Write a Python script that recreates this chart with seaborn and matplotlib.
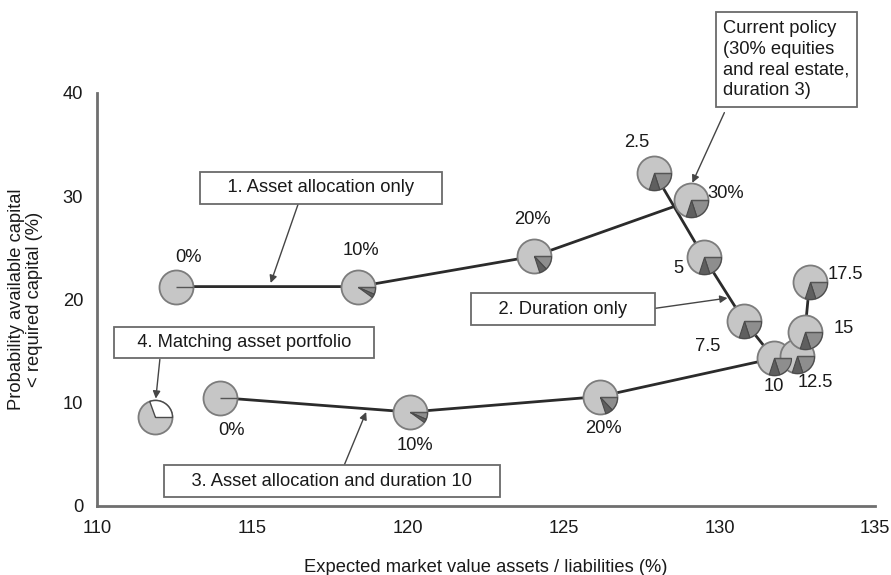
import numpy as np
import pandas as pd
import matplotlib
matplotlib.use("Agg")
import matplotlib.pyplot as plt
from matplotlib.path import Path
import seaborn as sns

# ---- data -------------------------------------------------------------
# 1. asset allocation only (duration 3)
alloc_labels = ["0%", "10%", "20%", "30%"]
alloc_x = [112.55, 118.4, 124.05, 129.1]
alloc_y = [21.25, 21.25, 24.2, 29.6]
alloc_equity = [0.0, 6.5, 13.0, 20.0]       # % equities
alloc_realestate = [0.0, 3.5, 7.0, 10.0]    # % real estate

# 2. duration only (30% equities and real estate)
dur_labels = ["2.5", "5", "7.5", "10", "12.5", "15", "17.5"]
dur_x = [127.9, 129.5, 130.8, 131.75, 132.5, 132.75, 132.9]
dur_y = [32.3, 24.1, 17.9, 14.3, 14.5, 16.9, 21.7]
dur_equity = [20.0] * 7
dur_realestate = [10.0] * 7

# 3. asset allocation with duration 10 (30% point is the duration-10 point)
d10_labels = ["0%", "10%", "20%"]
d10_x = [113.95, 120.05, 126.15]
d10_y = [10.5, 9.1, 10.6]
d10_equity = [0.0, 6.5, 13.0]
d10_realestate = [0.0, 3.5, 7.0]

# 4. matching asset portfolio
match_x = [111.85]
match_y = [8.6]
match_share = [30.5]   # % shown as open slice

x_ticks = [110, 115, 120, 125, 130, 135]
y_ticks = [0, 10, 20, 30, 40]

# ---- style ------------------------------------------------------------
sns.set_theme(style="white")
plt.rcParams["font.family"] = ["Liberation Sans", "DejaVu Sans"]

FS = 13.2
AXIS_C = "#6f6f6f"
LINE_C = "#2b2b2b"
PIE_FILL = "#c6c6c6"
PIE_EDGE = "#7c7c7c"
EQ_C = "#8e8e8e"
RE_C = "#5f5f5f"
WEDGE_EDGE = "#4a4a4a"
PIE_S = 600.0   # marker area (pt^2) of a full pie

fig = plt.figure(figsize=(8.91, 5.75), dpi=100)
ax = fig.add_axes([97 / 891, 1 - 506 / 575, 778 / 891, 413 / 575])

# ---- connecting lines ---------------------------------------------------
line1 = pd.DataFrame({"x": alloc_x, "y": alloc_y})
line2 = pd.DataFrame({"x": dur_x, "y": dur_y})
line3 = pd.DataFrame({"x": d10_x + [dur_x[3]], "y": d10_y + [dur_y[3]]})
for df in (line1, line2, line3):
    sns.lineplot(data=df, x="x", y="y", sort=False, estimator=None,
                 color=LINE_C, lw=2.0, ax=ax, zorder=2)


# ---- pie markers --------------------------------------------------------
def wedge_marker(a0, a1, n=48):
    """Closed wedge path between angles a0..a1 (degrees, counter-clockwise)."""
    t = np.radians(np.linspace(a0, a1, n))
    verts = np.vstack([[0, 0], np.column_stack([np.cos(t), np.sin(t)]), [0, 0]])
    return verts


def scaled_size(verts):
    # matplotlib rescales custom markers by their largest coordinate
    return PIE_S * np.max(np.abs(verts)) ** 2


def draw_pies(xs, ys, equity, realestate):
    sns.scatterplot(x=xs, y=ys, s=PIE_S, marker="o", color=PIE_FILL,
                    edgecolor=PIE_EDGE, linewidth=1.3, ax=ax, zorder=3,
                    legend=False)
    for xi, yi, eq, re in zip(xs, ys, equity, realestate):
        a_eq = -eq / 100 * 360
        a_re = -(eq + re) / 100 * 360
        if eq > 0:
            v = wedge_marker(a_eq, 0)
            ax.scatter([xi], [yi], marker=v, s=scaled_size(v), c=EQ_C,
                       edgecolors=WEDGE_EDGE, linewidths=0.8, zorder=4)
        if re > 0:
            v = wedge_marker(a_re, a_eq)
            ax.scatter([xi], [yi], marker=v, s=scaled_size(v), c=RE_C,
                       edgecolors=WEDGE_EDGE, linewidths=0.8, zorder=4)
    radial = Path([(0, 0), (1, 0)], [Path.MOVETO, Path.LINETO])
    ax.scatter(xs, ys, marker=radial, s=PIE_S, facecolors="none",
               edgecolors="#555555", linewidths=1.0, zorder=5)


draw_pies(alloc_x, alloc_y, alloc_equity, alloc_realestate)
draw_pies(dur_x, dur_y, dur_equity, dur_realestate)
draw_pies(d10_x, d10_y, d10_equity, d10_realestate)

# matching portfolio: grey pie with an open (white) slice
sns.scatterplot(x=match_x, y=match_y, s=PIE_S, marker="o", color=PIE_FILL,
                edgecolor=PIE_EDGE, linewidth=1.3, ax=ax, zorder=3, legend=False)
for xi, yi, sh in zip(match_x, match_y, match_share):
    v = wedge_marker(0, sh / 100 * 360)
    ax.scatter([xi], [yi], marker=v, s=scaled_size(v), c="white",
               edgecolors=WEDGE_EDGE, linewidths=1.0, zorder=4)

# ---- point labels -------------------------------------------------------
def label_points(xs, ys, labels, offsets):
    for xi, yi, lab, off in zip(xs, ys, labels, offsets):
        ax.annotate(lab, (xi, yi), xytext=off, textcoords="offset pixels",
                    ha="center", va="center", fontsize=FS, color="#1a1a1a",
                    zorder=6)


label_points(alloc_x[:3], alloc_y[:3], alloc_labels[:3],
             [(12, 29), (3, 36), (-2, 37)])
label_points(alloc_x[3:], alloc_y[3:], alloc_labels[3:], [(34, 7)])
label_points(dur_x, dur_y, dur_labels,
             [(-17, 30), (-25, -11), (-37, -25), (0, -28), (18, -26),
              (39, 3), (36, 7)])
label_points(d10_x, d10_y, d10_labels, [(12, -33), (5, -33), (4, -32)])

# ---- annotation boxes ---------------------------------------------------
box = dict(boxstyle="square,pad=0.4", fc="white", ec="#6a6a6a", lw=1.3)
arrow = dict(arrowstyle="-|>", color="#454545", lw=1.0, shrinkA=0, shrinkB=0,
             mutation_scale=11)


def callout(text, center, tail, tip, **kw):
    ax.text(*center, text, ha="center", va="center", fontsize=FS,
            bbox=box, zorder=7, color="#1a1a1a", clip_on=False, **kw)
    ax.annotate("", xy=tip, xytext=tail, arrowprops=arrow, zorder=6,
                annotation_clip=False)


callout("    1. Asset allocation only    ", (117.2, 30.83),
        (116.47, 29.3), (115.58, 21.6))
callout("    2. Duration only    ", (124.98, 19.07),
        (127.76, 19.07), (130.26, 20.14))
callout("   4. Matching asset portfolio   ", (114.73, 15.83),
        (112.02, 14.2), (111.89, 10.4))
callout("    3. Asset allocation and duration 10    ", (117.55, 2.42),
        (117.95, 4.0), (118.65, 9.1))

ax.text(130.13, 47.1, "Current policy\n(30% equities\nand real estate,\nduration 3)",
        ha="left", va="top", fontsize=FS, linespacing=1.3, bbox=box,
        zorder=7, color="#1a1a1a", clip_on=False)
ax.annotate("", xy=(129.13, 31.3), xytext=(130.16, 38.1), arrowprops=arrow,
            zorder=6, annotation_clip=False)

# ---- axes ---------------------------------------------------------------
ax.set_xlim(110, 135)
ax.set_ylim(0, 40)
ax.set_xticks(x_ticks)
ax.set_yticks(y_ticks)
ax.set_xticklabels([str(t) for t in x_ticks])
ax.set_yticklabels([str(t) for t in y_ticks])
for side in ("top", "right"):
    ax.spines[side].set_visible(False)
for side in ("left", "bottom"):
    ax.spines[side].set_color(AXIS_C)
    ax.spines[side].set_linewidth(2.0)
ax.tick_params(axis="both", direction="inout", length=10, width=1.6,
               color=AXIS_C, labelsize=FS, labelcolor="#1a1a1a", pad=5)
ax.set_xlabel("Expected market value assets / liabilities (%)", fontsize=FS,
              color="#1a1a1a", labelpad=16)
ax.set_ylabel("Probability available capital\n< required capital (%)",
              fontsize=FS, color="#1a1a1a", labelpad=14, linespacing=1.1)
ax.patch.set_alpha(0)

fig.savefig("out.png", dpi=100, facecolor="white")
